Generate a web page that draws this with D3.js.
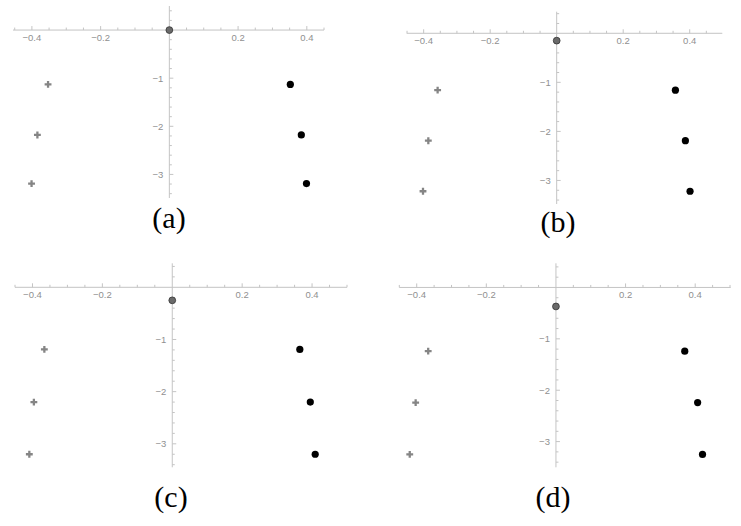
<!DOCTYPE html>
<html>
<head>
<meta charset="utf-8">
<script src="https://cdn.jsdelivr.net/npm/d3@7"></script>
<style>
  html, body { margin: 0; padding: 0; background: #fff; }
  svg { display: block; }
</style>
</head>
<body>
<svg id="chart" width="741" height="526"></svg>
<script>
// Panel labels and data.
const panelLabels = ["(a)", "(b)", "(c)", "(d)"];
const originY = [0, -0.15, -0.25, -0.37];
const levelY = [
  [-1.13, -2.18, -3.19],
  [-1.16, -2.19, -3.22],
  [-1.19, -2.2, -3.2],
  [-1.24, -2.24, -3.25]
];
const grayX = [
  [-0.353, -0.384, -0.401],
  [-0.358, -0.386, -0.402],
  [-0.366, -0.396, -0.409],
  [-0.367, -0.403, -0.42]
];
const blackX = [
  [0.352, 0.384, 0.399],
  [0.357, 0.387, 0.401],
  [0.365, 0.395, 0.409],
  [0.37, 0.407, 0.421]
];
const xTickLabels = [-0.4, -0.2, 0.2, 0.4];
const yTickLabels = [-1, -2, -3];

// Frame of each panel: axis domains and where they sit on the page.
const frames = [
  { xd: [-0.455, 0.45], xr: [13, 324], yd: [0.5, -3.49], yr: [6, 198], lx: 169, ly: 228 },
  { xd: [-0.451, 0.498], xr: [406.7, 722.3], yd: [0.44, -3.48], yr: [11.7, 204], lx: 558, ly: 232 },
  { xd: [-0.45, 0.5], xr: [15, 347], yd: [0.46, -3.45], yr: [263.3, 467.3], lx: 171, ly: 507 },
  { xd: [-0.45, 0.502], xr: [399.3, 730.7], yd: [0.47, -3.5], yr: [263.3, 467.3], lx: 553, ly: 507 }
];

const svg = d3.select("#chart");
const axisColor = "#c4c4c4";
const fmt = (v) => d3.format(".1f")(v).replace("-", "\u2212");

frames.forEach((f, i) => {
  const x = d3.scaleLinear().domain(f.xd).range(f.xr);
  const y = d3.scaleLinear().domain(f.yd).range(f.yr);
  const g = svg.append("g");
  const x0 = x(0), y0 = y(0);

  // Axis lines.
  g.append("line").attr("x1", f.xr[0]).attr("x2", f.xr[1]).attr("y1", y0).attr("y2", y0)
    .attr("stroke", axisColor).attr("stroke-width", 1);
  g.append("line").attr("x1", x0).attr("x2", x0).attr("y1", f.yr[0]).attr("y2", f.yr[1])
    .attr("stroke", axisColor).attr("stroke-width", 1);

  // X ticks: major every 0.2, minor every 0.05, pointing up.
  const xMinor = d3.range(-0.45, f.xd[1] + 1e-6, 0.05).map((v) => Math.round(v * 100) / 100)
    .filter((v) => v >= f.xd[0] - 1e-6 && Math.abs(v) > 1e-6);
  g.selectAll(null).data(xMinor).join("line")
    .attr("x1", (d) => x(d)).attr("x2", (d) => x(d))
    .attr("y1", y0).attr("y2", (d) => y0 - (Math.abs(Math.round(d * 100) % 20) === 0 ? 4 : 2.5))
    .attr("stroke", axisColor).attr("stroke-width", 1);

  g.selectAll(null).data(xTickLabels).join("text")
    .attr("x", (d) => x(d)).attr("y", y0 + 11)
    .attr("text-anchor", "middle")
    .attr("font-family", "Liberation Sans, Arial, sans-serif")
    .attr("font-size", 9.5).attr("fill", "#909090")
    .text(fmt);

  // Y ticks: major every 1, minor every 0.2, pointing right.
  const yMinor = d3.range(-17, Math.floor(f.yd[0] * 5) + 1).map((k) => k / 5)
    .filter((v) => v >= f.yd[1] && v !== 0);
  g.selectAll(null).data(yMinor).join("line")
    .attr("y1", (d) => y(d)).attr("y2", (d) => y(d))
    .attr("x1", x0).attr("x2", (d) => x0 + (Number.isInteger(d) ? 4 : 2.5))
    .attr("stroke", axisColor).attr("stroke-width", 1);

  g.selectAll(null).data(yTickLabels).join("text")
    .attr("x", x0 - 6).attr("y", (d) => y(d) + 3.5)
    .attr("text-anchor", "end")
    .attr("font-family", "Liberation Sans, Arial, sans-serif")
    .attr("font-size", 9.5).attr("fill", "#909090")
    .text((d) => String(d).replace("-", "\u2212"));

  // Gray points on the left.
  const cross = d3.symbol().type(d3.symbolCross).size(26);
  g.selectAll(null).data(d3.zip(grayX[i], levelY[i])).join("path")
    .attr("d", cross)
    .attr("transform", (d) => `translate(${x(d[0])},${y(d[1])})`)
    .attr("fill", "#858585");

  // Black points on the right.
  g.selectAll(null).data(d3.zip(blackX[i], levelY[i])).join("circle")
    .attr("cx", (d) => x(d[0])).attr("cy", (d) => y(d[1]))
    .attr("r", 3.6).attr("fill", "#000");

  // Point on the vertical axis.
  g.append("circle")
    .attr("cx", x(0)).attr("cy", y(originY[i]))
    .attr("r", 3.4).attr("fill", "#6a6a6a")
    .attr("stroke", "#333").attr("stroke-width", 0.8);

  // Panel label.
  g.append("text")
    .attr("x", f.lx).attr("y", f.ly)
    .attr("text-anchor", "middle")
    .attr("font-family", "Liberation Serif, Times New Roman, serif")
    .attr("font-size", 30).attr("fill", "#000")
    .text(panelLabels[i]);
});
</script>
</body>
</html>
